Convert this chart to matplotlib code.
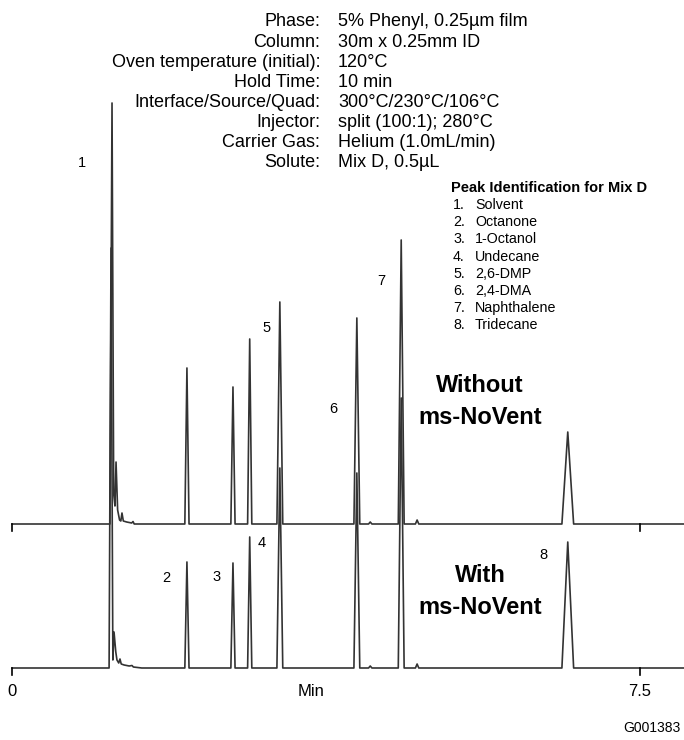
import numpy as np
import matplotlib
matplotlib.use('Agg')
import matplotlib.pyplot as plt

plt.rcParams['font.family'] = ['Liberation Sans', 'DejaVu Sans']

# run conditions
cond_labels = ['Phase:', 'Column:', 'Oven temperature (initial):', 'Hold Time:',
               'Interface/Source/Quad:', 'Injector:', 'Carrier Gas:', 'Solute:']
cond_values = ['5% Phenyl, 0.25µm film', '30m x 0.25mm ID', '120°C', '10 min',
               '300°C/230°C/106°C', 'split (100:1); 280°C', 'Helium (1.0mL/min)',
               'Mix D, 0.5µL']

peak_names = ['Solvent', 'Octanone', '1-Octanol', 'Undecane', '2,6-DMP',
              '2,4-DMA', 'Naphthalene', 'Tridecane']

# retention times (min) of peaks 2..8, half base width (min)
rt = [2.09, 2.64, 2.84, 3.20, 4.12, 4.65, 6.64]
half_w = [0.025, 0.025, 0.025, 0.035, 0.035, 0.035, 0.07]
# peak heights, without / with ms-NoVent
h_without = [156, 137, 185, 222, 206, 284, 92]
h_with = [106, 105, 131, 200, 195, 270, 126]

# solvent peak + tailing, read point by point
solv_t_without = [1.17, 1.195, 1.215, 1.23, 1.243, 1.262, 1.285, 1.30, 1.314, 1.33, 1.37, 1.43, 1.446, 1.46]
solv_h_without = [0, 421, 30, 18, 62, 14, 4, 3, 11, 3, 2, 1, 2.5, 0]
solv_t_with = [1.16, 1.183, 1.205, 1.219, 1.24, 1.254, 1.275, 1.29, 1.305, 1.34, 1.40, 1.434, 1.45, 1.55]
solv_h_with = [0, 420, 8, 36, 16, 8, 5, 9, 4, 3, 2, 2.5, 1, 0]

# small late bumps
bump_t = [4.28, 4.84]
bump_h = [2, 4]

offset = 144  # vertical spacing of the two traces
t_end = (684 - 12) / 83.7


def trace(solv_t, solv_h, heights):
    pts = list(zip(solv_t, solv_h))
    for t, w, h in zip(rt, half_w, heights):
        pts += [(t - w, 0), (t, h), (t + w, 0)]
    for t, h in zip(bump_t, bump_h):
        pts += [(t - 0.02, 0), (t, h), (t + 0.02, 0)]
    pts += [(0, 0), (t_end + 0.1, 0)]
    pts.sort()
    return np.array(pts)


fig = plt.figure(figsize=(6.84, 7.40), dpi=100)
ax = fig.add_axes([0, 0, 1, 1])
ax.set_xlim(-12 / 83.7, t_end)
ax.set_ylim(-72, 668)
ax.axis('off')

top = trace(solv_t_without, solv_h_without, h_without)
bot = trace(solv_t_with, solv_h_with, h_with)
ax.plot(bot[:, 0], bot[:, 1], color='#333333', lw=1.2)
ax.plot(top[:, 0], top[:, 1] + offset, color='#333333', lw=1.2)

# ticks
for base in (0, offset):
    ax.plot([0, 0], [base, base - 7], color='black', lw=1.2)
    ax.plot([7.5, 7.5], [base, base - 7], color='black', lw=1.2)


def ftext(x, y, s, **kw):
    fig.text(x / 684, 1 - y / 740, s, **kw)


for i, (lab, val) in enumerate(zip(cond_labels, cond_values)):
    y = 22 + 20.1 * i
    ftext(320, y, lab, ha='right', va='center', fontsize=13)
    ftext(338, y, val, ha='left', va='center', fontsize=13)

ftext(451, 188, 'Peak Identification for Mix D', ha='left', va='center',
      fontsize=10.5, fontweight='bold')
for i, name in enumerate(peak_names):
    y = 205 + 17.2 * i
    ftext(453, y, f'{i + 1}.', ha='left', va='center', fontsize=10.3)
    ftext(475, y, name, ha='left', va='center', fontsize=10.3)

# peak numbers
for s, x, y in [('1', 82, 163), ('5', 267, 328), ('6', 333, 409), ('7', 381, 281),
                ('2', 166, 578), ('3', 217, 577), ('4', 262, 543), ('8', 543, 555)]:
    ftext(x, y, s, ha='center', va='center', fontsize=10.5)

for s, y in [('Without', 386), ('ms-NoVent', 418), ('With', 575), ('ms-NoVent', 607)]:
    ftext(480, y, s, ha='center', va='center', fontsize=17, fontweight='bold')

ftext(12, 692, '0', ha='center', va='center', fontsize=12)
ftext(311, 692, 'Min', ha='center', va='center', fontsize=12)
ftext(640, 692, '7.5', ha='center', va='center', fontsize=12)
ftext(680, 728, 'G001383', ha='right', va='center', fontsize=10)

fig.savefig('out.png', dpi=100)
